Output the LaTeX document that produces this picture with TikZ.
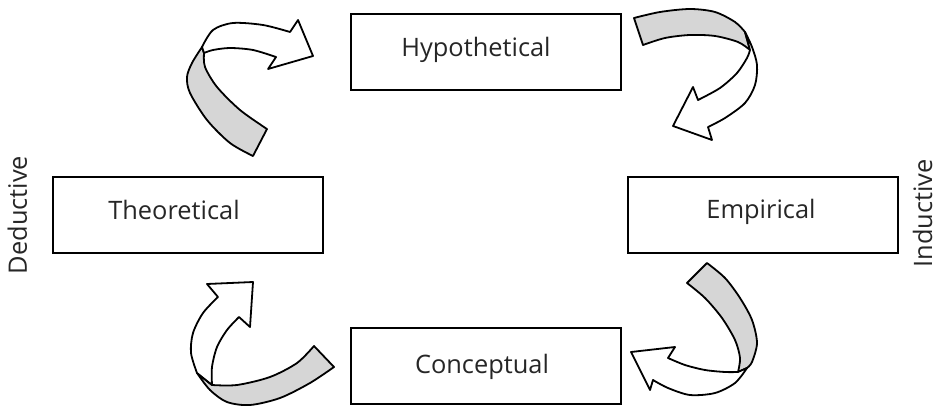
\documentclass[tikz,border=0pt]{standalone}
\usepackage{fontspec}
\setmainfont{Open Sans}
\begin{document}
\begin{tikzpicture}[x=1pt,y=-1pt,
  box/.style={draw=black,line width=1.9pt,minimum width=270pt,minimum height=76pt,inner sep=0pt,anchor=north west},
  lbl/.style={inner sep=0pt,anchor=base,font=\fontsize{25.4}{28}\selectfont,text=black!85},
  band/.style={fill=black!16,draw=black,line width=1.8pt,line join=round},
  head/.style={fill=white,draw=black,line width=1.8pt,line join=round}]
\useasboundingbox (0,0) rectangle (941,406);
% boxes
\node[box] (hyp) at (350,13) {};
\node[box] (the) at (52,176) {};
\node[box] (emp) at (627,176) {};
\node[box] (con) at (350,327) {};
% labels
\node[lbl] (thyp) at (476,57) {Hypothetical};
\node[lbl] (tthe) at (174,219) {Theoretical};
\node[lbl] (temp) at (761,218) {Empirical};
\node[lbl] (tcon) at (482,373) {Conceptual};
\node[lbl,rotate=90] (tded) at (27,215) {Deductive};
\node[lbl,rotate=90] (tind) at (932,213.5) {Inductive};
% arrow top-left
\draw[band] plot[smooth] coordinates {(253,156) (230,143) (207,120) (190,93) (187,77) (192,63) (202,47)}
  -- (204,53) -- plot[smooth] coordinates {(204,53) (205,67) (217,87) (240,110) (267,129)} -- cycle;
\draw[head] plot[smooth] coordinates {(202,47) (213,30) (233,23) (263,25) (290,32)}
  -- (298,20) -- (313,56) -- (268,69) -- (276,57)
  -- plot[smooth] coordinates {(276,57) (253,50) (230,48) (213,50) (204,53)} -- cycle;
% arrow top-right
\draw[band] plot[smooth] coordinates {(634,18) (660,12) (690,9) (715,12) (735,22) (745,32)}
  -- (750,50) -- plot[smooth] coordinates {(750,50) (738,42) (715,36) (690,35) (665,38) (643,45)} -- cycle;
\draw[head] plot[smooth] coordinates {(745,32) (752,47) (757,65) (755,85) (745,103) (725,118) (708,127)}
  -- (712,140) -- (673,126) -- (693,87) -- (698,100)
  -- plot[smooth] coordinates {(698,100) (720,88) (737,73) (747,58) (750,50)} -- cycle;
% arrow bottom-left
\draw[band] plot[smooth] coordinates {(212,385) (237,385) (270,377) (297,363) (314,346)}
  -- (334,367) -- plot[smooth] coordinates {(334,367) (310,383) (280,398) (250,405) (227,402) (210,390) (197,373)} -- cycle;
\draw[head] plot[smooth] coordinates {(197,373) (191,353) (193,333) (203,313) (218,297)}
  -- (207,284) -- (253,282) -- (250,327) -- (239,317)
  -- plot[smooth] coordinates {(239,317) (227,330) (217,347) (212,367) (212,385)} -- cycle;
% arrow bottom-right
\draw[band] plot[smooth] coordinates {(707,263) (725,278) (740,298) (752,320) (757,343) (752,362) (747,368)}
  -- (738,372) -- plot[smooth] coordinates {(738,372) (740,358) (735,340) (722,318) (705,298) (687,283)} -- cycle;
\draw[head] plot[smooth] coordinates {(747,368) (735,383) (715,393) (690,395) (668,388) (653,380)}
  -- (650,390) -- (631,352) -- (675,347) -- (668,358)
  -- plot[smooth] coordinates {(668,358) (685,365) (705,370) (725,372) (738,372)} -- cycle;
\end{tikzpicture}
\end{document}
